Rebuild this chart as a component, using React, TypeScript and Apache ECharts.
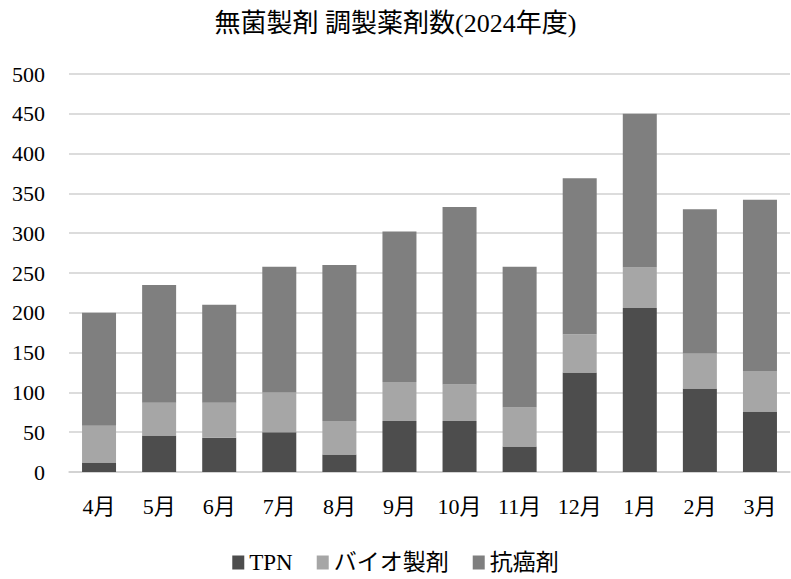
import { useEffect, useRef } from "react";
import * as echarts from "echarts";

const MONTHS = ["4月", "5月", "6月", "7月", "8月", "9月", "10月", "11月", "12月", "1月", "2月", "3月"];
const TPN = [12, 46, 43, 50, 22, 64, 64, 32, 125, 206, 105, 76];
const BIO = [46, 41, 44, 50, 42, 49, 46, 49, 48, 51, 44, 51];
const ANTICANCER = [142, 148, 123, 158, 196, 189, 223, 177, 196, 193, 181, 215];

const FONT = "'Liberation Serif', 'Noto Sans CJK JP', serif";
const GRID_LINE = "#d0d0d0";

export default function App() {
  const boxRef = useRef<HTMLDivElement>(null);

  useEffect(() => {
    if (!boxRef.current) return;
    const chart = echarts.init(boxRef.current, undefined, { renderer: "svg" });
    const bar = (name: string, data: number[], color: string) => ({
      name,
      type: "bar",
      stack: "total",
      data,
      barWidth: 34,
      itemStyle: { color },
    });
    chart.setOption({
      animation: false,
      textStyle: { fontFamily: FONT },
      title: {
        text: "無菌製剤 調製薬剤数(2024年度)",
        left: "center",
        top: 5,
        textStyle: { fontFamily: FONT, fontSize: 26, fontWeight: "normal", color: "#000" },
      },
      grid: { left: 69, right: 1, top: 74, bottom: 107 },
      legend: {
        bottom: 0,
        left: "center",
        icon: "rect",
        itemWidth: 12,
        itemHeight: 14,
        itemGap: 24,
        textStyle: { fontFamily: FONT, fontSize: 23, color: "#000" },
        data: ["TPN", "バイオ製剤", "抗癌剤"],
      },
      xAxis: {
        type: "category",
        data: MONTHS,
        axisLine: { lineStyle: { color: GRID_LINE, width: 1.5 } },
        axisTick: { show: false },
        axisLabel: { fontFamily: FONT, fontSize: 22, color: "#000", margin: 23 },
      },
      yAxis: {
        type: "value",
        min: 0,
        max: 500,
        interval: 50,
        axisLine: { show: false },
        axisTick: { show: false },
        axisLabel: { fontFamily: FONT, fontSize: 22, color: "#000", margin: 24 },
        splitLine: { lineStyle: { color: GRID_LINE, width: 1.5 } },
      },
      series: [
        bar("TPN", TPN, "#4d4d4d"),
        bar("バイオ製剤", BIO, "#a6a6a6"),
        bar("抗癌剤", ANTICANCER, "#7f7f7f"),
      ],
    });
    return () => chart.dispose();
  }, []);

  return (
    <div
      ref={boxRef}
      style={{ position: "fixed", left: 0, top: 0, width: 791, height: 579, background: "#fff" }}
    />
  );
}
